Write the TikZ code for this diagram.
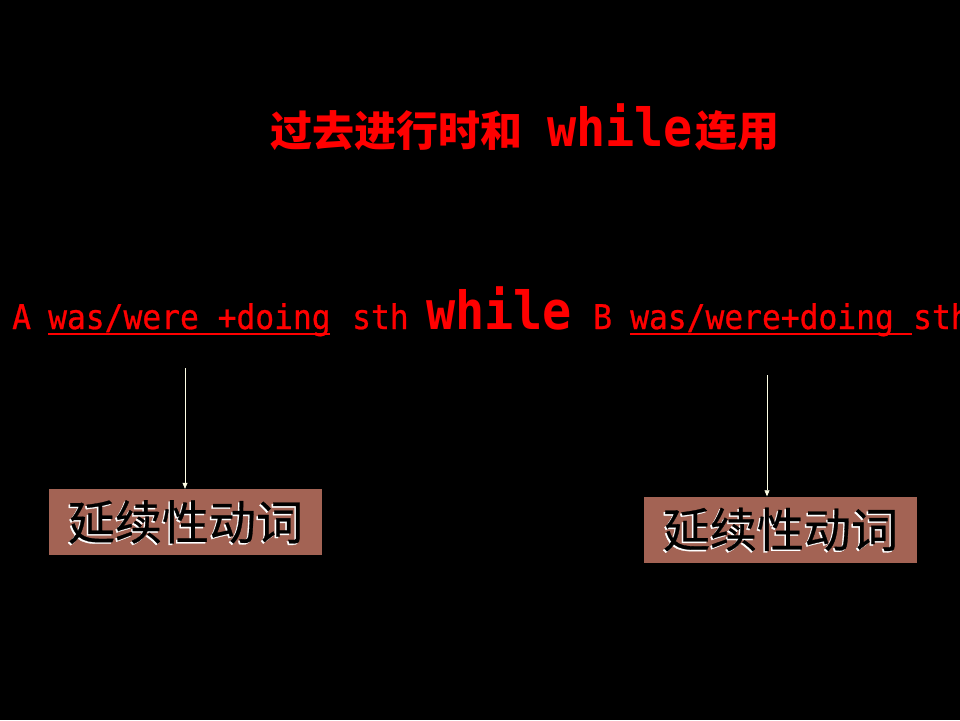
\documentclass[tikz,border=0pt]{standalone}
\usepackage{fontspec}
\newfontfamily\cjk{Noto Sans CJK SC}
\newfontfamily\monof[FakeStretch=0.92]{DejaVu Sans Mono}
\newfontfamily\monofb[FakeStretch=0.92,FakeBold=0.8]{DejaVu Sans Mono}
\newfontfamily\cjkb[FakeBold=0.6]{Noto Sans CJK SC}
\usetikzlibrary{arrows.meta}
\definecolor{redtxt}{RGB}{255,0,0}
\definecolor{boxbrown}{RGB}{163,99,84}
\definecolor{arrowcol}{RGB}{255,255,230}
\tikzset{
  txt/.style={inner sep=0pt, anchor=base west, text=redtxt},
  mono/.style={txt, font=\monofb\fontsize{34}{40}\selectfont},
  bigmono/.style={txt, font=\monof\bfseries\fontsize{52.7}{60}\selectfont},
  cjktitle/.style={txt, font=\cjk\bfseries\fontsize{42}{48}\selectfont},
  verbbox/.style={fill=boxbrown, draw=none, minimum width=273pt, minimum height=66pt, inner sep=0pt},
  boxtext/.style={inner sep=0pt, font=\cjkb\fontsize{47}{52}\selectfont},
  uline/.style={redtxt, line width=1.5pt},
  pointer/.style={arrowcol, line width=0.6pt, -{Triangle[length=6pt,width=5pt]}}
}
\begin{document}
\begin{tikzpicture}[x=1pt,y=-1pt]
\fill[black] (0,0) rectangle (960,720);
\clip (0,0) rectangle (960,720);
\useasboundingbox (0,0) rectangle (960,720);
% title
\node[cjktitle] (t1) at (270,146) {过去进行时和};
\node[bigmono] (t2) at (547,146) {while};
\node[cjktitle] (t3) at (695,146) {连用};
% sentence
\node[mono] (sA) at (12,329) {A};
\node[mono] (sA2) at (48,329) {was/were +doing};
\node[mono] (sA3) at (352,329) {sth};
\node[bigmono] (sW) at (426,329) {while};
\node[mono] (sB) at (593,329) {B};
\node[mono] (sB2) at (630,329) {was/were+doing};
\node[mono] (sB3) at (913,329) {sth};
\coordinate (u1a) at (48,334);
\coordinate (u1b) at (330,334);
\coordinate (u2a) at (630,334);
\coordinate (u2b) at (912,334);
\draw[uline] (u1a) -- (u1b);
\draw[uline] (u2a) -- (u2b);
% boxes
\node[verbbox] (b1) at (185.5,522) {};
\node[boxtext, text=white] at ([xshift=-1.5pt,yshift=-1.5pt]b1.center) {延续性动词};
\node[boxtext, text=black] (b1t) at (b1.center) {延续性动词};
\node[verbbox] (b2) at (780.5,529.5) {};
\node[boxtext, text=white] at ([xshift=-1.5pt,yshift=-1.5pt]b2.center) {延续性动词};
\node[boxtext, text=black] (b2t) at (b2.center) {延续性动词};
% arrows
\coordinate (p1) at (185,368);
\coordinate (p2) at (767,375);
\draw[pointer] (p1) -- (p1 |- b1.north);
\draw[pointer] (p2) -- (p2 |- b2.north);
\end{tikzpicture}
\end{document}
